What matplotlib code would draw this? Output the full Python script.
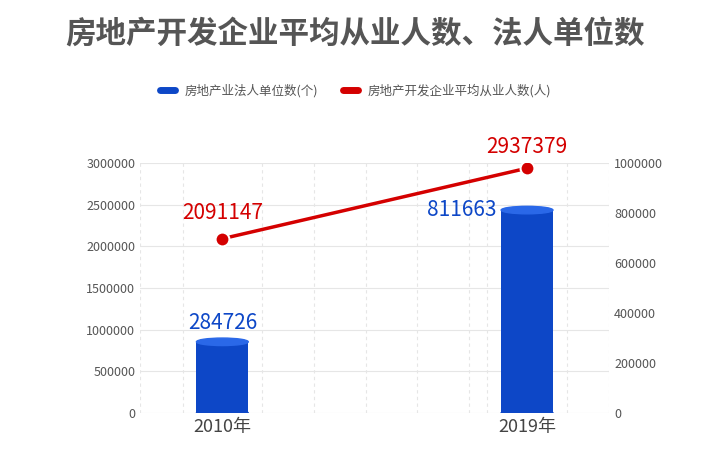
import matplotlib
matplotlib.use("Agg")
import matplotlib.pyplot as plt
from matplotlib.patches import Ellipse
from matplotlib.lines import Line2D

plt.rcParams['font.family'] = ['Noto Sans CJK SC', 'DejaVu Sans']

years = ["2010年", "2019年"]
units = [284726, 811663]
employees = [2091147, 2937379]
left_ticks = [0, 500000, 1000000, 1500000, 2000000, 2500000, 3000000]
right_ticks = [0, 200000, 400000, 600000, 800000, 1000000]

fig = plt.figure(figsize=(7.11, 4.63), dpi=100)
ax = fig.add_axes([0.197, 0.108, 0.66, 0.54])
ax2 = ax.twinx()
xs = [0, 1]
ax.set_xlim(-0.27, 1.27)
ax.set_ylim(0, 3000000)
ax2.set_ylim(0, 1000000)
ax.set_yticks(left_ticks)
ax2.set_yticks(right_ticks)
ax.set_yticklabels([str(v) for v in left_ticks], fontsize=9, color='#555')
ax2.set_yticklabels([str(v) for v in right_ticks], fontsize=9, color='#555')
ax.set_xticks(xs)
ax.set_xticklabels(years, fontsize=13, color='#444')
for a in (ax, ax2):
    for s in a.spines.values():
        s.set_visible(False)
    a.tick_params(length=0)
# horizontal grid at left-axis ticks, drawn behind the bars
for t in left_ticks:
    ax2.axhline(t * 1000000 / 3000000, color='#e6e6e6', lw=0.8, zorder=0)
for gx in [-0.27, -0.13, 0.13, 0.3, 0.47, 0.64, 0.81, 0.87, 1.13, 1.27]:
    ax2.axvline(gx, color='#e6e6e6', lw=0.8, ls=(0, (3, 3)), zorder=0)
ax.set_zorder(ax2.get_zorder() + 1)
ax.patch.set_visible(False)

w = 0.17
for x, v in zip(xs, units):
    ax2.bar(x, v, width=w, color='#0d47c7', zorder=2)
    ax2.add_patch(Ellipse((x, v), w, 30000, color='#2a68e8', zorder=3))
    ax2.add_patch(Ellipse((x, 0), w, 30000, color='#0d47c7', zorder=1))
ax2.text(xs[0], units[0] + 30000, f"{units[0]}", ha='center', va='bottom', fontsize=15, color='#0d47c7')
ax2.text(xs[1] - 0.1, units[1], f"{units[1]}", ha='right', va='center', fontsize=15, color='#0d47c7')

ax.plot(xs, employees, color='#d40000', lw=2.5, marker='o', ms=10,
        mfc='#d40000', mec='white', mew=1.5, zorder=5)
ax.text(xs[0], employees[0] + 180000, f"{employees[0]}", ha='center', va='bottom', fontsize=15, color='#d40000')
ax.text(xs[1], employees[1] + 120000, f"{employees[1]}", ha='center', va='bottom', fontsize=15, color='#d40000')

fig.text(0.5, 0.905, "房地产开发企业平均从业人数、法人单位数", ha='center', fontsize=22,
         fontweight='bold', color='#555')
h = [Line2D([], [], color='#0d47c7', lw=5, solid_capstyle='round'),
     Line2D([], [], color='#d40000', lw=5, solid_capstyle='round')]
fig.legend(h, ["房地产业法人单位数(个)", "房地产开发企业平均从业人数(人)"], loc='center',
           bbox_to_anchor=(0.5, 0.805), ncol=2, frameon=False, fontsize=9,
           handlelength=1.2, labelcolor='#555')
fig.savefig("out.png", dpi=100)
